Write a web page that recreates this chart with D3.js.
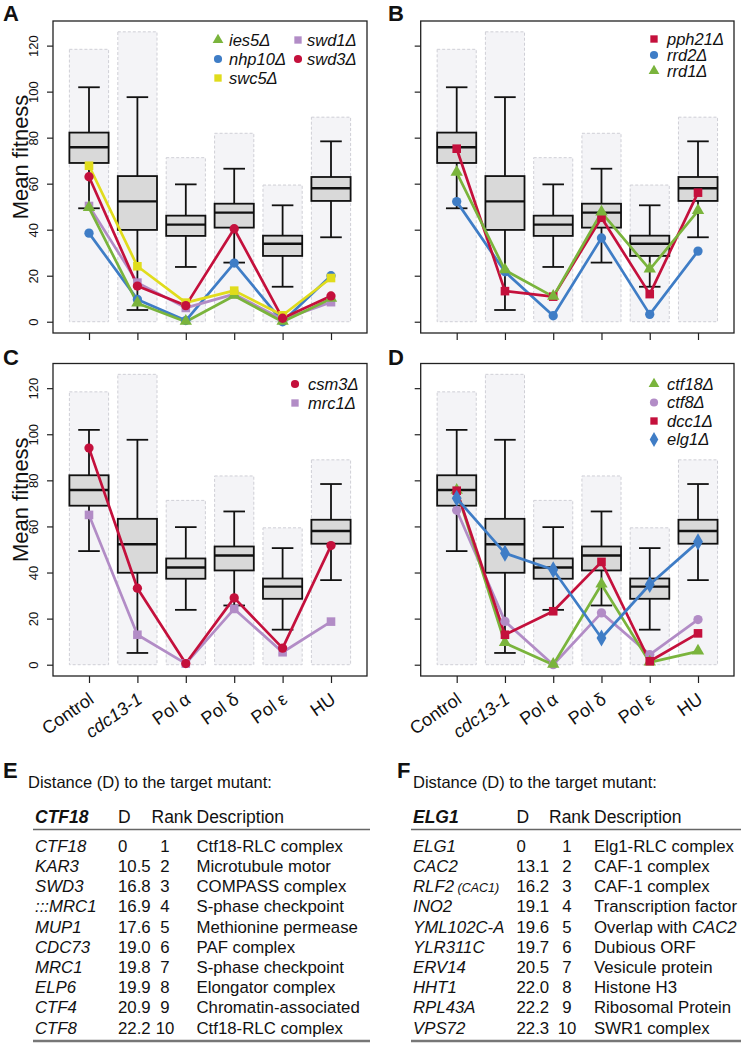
<!DOCTYPE html>
<html><head><meta charset="utf-8">
<script src="https://cdn.jsdelivr.net/npm/d3@7"></script>
<style>
body{margin:0;background:#fff}
svg{display:block}
text{font-family:"Liberation Sans",Arial,Helvetica,sans-serif;fill:#111}
</style>
</head><body>
<svg id="chart" width="741" height="1043"></svg>
<script>
// ---------- DATA ----------
const categories = ["Control", "cdc13-1", "Pol α", "Pol δ", "Pol ε", "HU"];
const yTicks = [0, 20, 40, 60, 80, 100, 120];
// reference distribution (same in every panel)
const rangeMax    = [118.4, 126.0, 71.3, 81.9, 59.4, 88.9];
const whiskerHigh = [101.9, 97.6, 59.7, 66.5, 50.6, 78.4];
const q3          = [82.2, 63.3, 46.1, 51.3, 37.4, 62.9];
const median      = [75.8, 52.3, 42.2, 47.4, 33.9, 58.0];
const q1          = [69.0, 39.9, 37.3, 40.9, 28.6, 52.5];
const whiskerLow  = [49.3, 5.1, 23.8, 25.7, 15.2, 36.7];

// panel A
const ies5  = [49.5, 8.0, 0.0, 11.3, 0.0, 10.0];
const nhp10 = [38.5, 9.7, 0.5, 25.5, 0.0, 20.0];
const swc5  = [67.8, 24.1, 8.3, 13.5, 2.8, 19.0];
const swd1  = [50.3, 17.0, 6.0, 12.0, 1.0, 8.5];
const swd3  = [63.0, 15.5, 7.0, 40.4, 1.5, 11.2];
// panel B
const pph21 = [75.2, 13.3, 10.9, 45.2, 12.0, 56.1];
const rrd2  = [52.2, 21.7, 2.6, 36.4, 3.2, 30.7];
const rrd1  = [64.8, 22.4, 10.9, 47.5, 22.7, 48.2];
// panel C
const csm3  = [94.0, 33.2, 0.5, 29.0, 7.2, 51.7];
const mrc1  = [65.0, 13.0, 0.5, 24.2, 5.4, 18.7];
// panel D
const ctf18 = [75.5, 9.4, 0.0, 34.8, 1.0, 5.8];
const ctf8  = [67.0, 18.8, 0.0, 22.5, 4.4, 19.6];
const dcc1  = [75.5, 13.0, 23.2, 44.6, 1.5, 13.6];
const elg1  = [72.2, 48.4, 41.2, 11.6, 34.8, 53.3];

// tables
const tableE_gene = ["CTF18", "KAR3", "SWD3", ":::MRC1", "MUP1", "CDC73", "MRC1", "ELP6", "CTF4", "CTF8"];
const tableE_D    = ["0", "10.5", "16.8", "16.9", "17.6", "19.0", "19.8", "19.9", "20.9", "22.2"];
const tableE_rank = ["1", "2", "3", "4", "5", "6", "7", "8", "9", "10"];
const tableE_desc = ["Ctf18-RLC complex", "Microtubule motor", "COMPASS complex", "S-phase checkpoint", "Methionine permease", "PAF complex", "S-phase checkpoint", "Elongator complex", "Chromatin-associated", "Ctf18-RLC complex"];

const tableF_gene = ["ELG1", "CAC2", "RLF2|(CAC1)", "INO2", "YML102C-A", "YLR311C", "ERV14", "HHT1", "RPL43A", "VPS72"];
const tableF_D    = ["0", "13.1", "16.2", "19.1", "19.6", "19.7", "20.5", "22.0", "22.2", "22.3"];
const tableF_rank = ["1", "2", "3", "4", "5", "6", "7", "8", "9", "10"];
const tableF_desc = ["Elg1-RLC complex", "CAF-1 complex", "CAF-1 complex", "Transcription factor", "Overlap with |CAC2", "Dubious ORF", "Vesicule protein", "Histone H3", "Ribosomal Protein", "SWR1 complex"];

// ---------- STYLES ----------
const COL = {green:"#7ab43c", blue:"#3f7dc6", yellow:"#e0dc1c", purple:"#b28cc6", red:"#c4103c"};
const seriesStyle = {
  ies5:{c:COL.green, s:"tri"}, nhp10:{c:COL.blue, s:"circ"}, swc5:{c:COL.yellow, s:"sq"},
  swd1:{c:COL.purple, s:"sq"}, swd3:{c:COL.red, s:"circ"},
  pph21:{c:COL.red, s:"sq"}, rrd2:{c:COL.blue, s:"circ"}, rrd1:{c:COL.green, s:"tri"},
  csm3:{c:COL.red, s:"circ"}, mrc1:{c:COL.purple, s:"sq"},
  ctf18:{c:COL.green, s:"tri"}, ctf8:{c:COL.purple, s:"circ"}, dcc1:{c:COL.red, s:"sq"}, elg1:{c:COL.blue, s:"dia"}
};
const seriesData = {ies5, nhp10, swc5, swd1, swd3, pph21, rrd2, rrd1, csm3, mrc1, ctf18, ctf8, dcc1, elg1};

const panels = [
  {id:"A", x0:53, x1:367, y0:21, y1:333, yLabels:true, xLabels:false, lx:3, ly:21,
   draw:["nhp10","swd1","ies5","swc5","swd3"],
   legend:[["ies5",218,229,40],["nhp10",218,229,59],["swc5",218,229,78],["swd1",298,307,40],["swd3",298,307,59]]},
  {id:"B", x0:420.7, x1:734, y0:21, y1:333, yLabels:false, xLabels:false, lx:388, ly:21,
   draw:["rrd2","pph21","rrd1"],
   legend:[["pph21",654,667,39],["rrd2",654,667,55],["rrd1",654,667,71]]},
  {id:"C", x0:53, x1:367, y0:363.5, y1:676, yLabels:true, xLabels:true, lx:3, ly:365,
   draw:["mrc1","csm3"],
   legend:[["csm3",295,308,384],["mrc1",295,308,403]]},
  {id:"D", x0:420.7, x1:734, y0:363.5, y1:676, yLabels:false, xLabels:true, lx:388, ly:365,
   draw:["ctf8","ctf18","dcc1","elg1"],
   legend:[["ctf18",654,667,384],["ctf8",654,667,402.5],["dcc1",654,667,421],["elg1",654,667,439.5]]}
];

const svg = d3.select("#chart");

function symbolPath(shape, big) {
  const t = {tri:d3.symbolTriangle, circ:d3.symbolCircle, sq:d3.symbolSquare, dia:d3.symbolDiamond}[shape];
  const sizes = big ? {tri:66, circ:68, sq:74, dia:84} : {tri:50, circ:52, sq:54, dia:64};
  return d3.symbol().type(t).size(sizes[shape])();
}

panels.forEach(p => {
  const g = svg.append("g");
  const x = d3.scalePoint().domain(categories).range([p.x0 + 36, p.x1 - 36]);
  const y = d3.scaleLinear().domain([-4.9, 130.7]).range([p.y1, p.y0]);
  const bw = x.step() * 0.81;
  const cap = bw * 0.55;

  // background ranges
  g.selectAll("rect.bg").data(categories).join("rect")
    .attr("x", c => x(c) - bw/2).attr("width", bw)
    .attr("y", (c,i) => y(rangeMax[i])).attr("height", (c,i) => y(0) - y(rangeMax[i]))
    .attr("fill", "#f4f4f7").attr("stroke", "#cfcfd6").attr("stroke-width", 1).attr("stroke-dasharray", "3,2");

  // box plots
  categories.forEach((c,i) => {
    const cx = x(c);
    g.append("line").attr("x1",cx).attr("x2",cx).attr("y1",y(whiskerHigh[i])).attr("y2",y(q3[i])).attr("stroke","#111").attr("stroke-width",1.8);
    g.append("line").attr("x1",cx).attr("x2",cx).attr("y1",y(q1[i])).attr("y2",y(whiskerLow[i])).attr("stroke","#111").attr("stroke-width",1.8);
    g.append("line").attr("x1",cx-cap/2).attr("x2",cx+cap/2).attr("y1",y(whiskerHigh[i])).attr("y2",y(whiskerHigh[i])).attr("stroke","#111").attr("stroke-width",1.8);
    g.append("line").attr("x1",cx-cap/2).attr("x2",cx+cap/2).attr("y1",y(whiskerLow[i])).attr("y2",y(whiskerLow[i])).attr("stroke","#111").attr("stroke-width",1.8);
    g.append("rect").attr("x",cx-bw/2).attr("width",bw).attr("y",y(q3[i])).attr("height",y(q1[i])-y(q3[i]))
      .attr("fill","#d9d9d9").attr("stroke","#111").attr("stroke-width",1.8);
    g.append("line").attr("x1",cx-bw/2).attr("x2",cx+bw/2).attr("y1",y(median[i])).attr("y2",y(median[i])).attr("stroke","#111").attr("stroke-width",2.4);
  });

  // series lines
  const line = d3.line().x((d,i) => x(categories[i])).y(d => y(d));
  p.draw.forEach(name => {
    const st = seriesStyle[name];
    g.append("path").datum(seriesData[name]).attr("d", line)
      .attr("fill","none").attr("stroke", st.c).attr("stroke-width", 2.7).attr("stroke-linejoin","round");
  });
  p.draw.forEach(name => {
    const st = seriesStyle[name];
    g.selectAll(null).data(seriesData[name]).join("path")
      .attr("d", symbolPath(st.s, true))
      .attr("transform", (d,i) => `translate(${x(categories[i])},${y(d) + (st.s==="tri"?-0.5:0)})`)
      .attr("fill", st.c);
  });

  // frame
  g.append("rect").attr("x",p.x0).attr("y",p.y0).attr("width",p.x1-p.x0).attr("height",p.y1-p.y0)
    .attr("fill","none").attr("stroke","#222").attr("stroke-width",1.3);

  // y axis
  const ya = g.append("g").attr("transform",`translate(${p.x0},0)`)
    .call(d3.axisLeft(y).tickValues(yTicks).tickSize(6).tickFormat(p.yLabels ? d3.format("d") : ""));
  ya.select(".domain").remove();
  ya.selectAll("line").attr("stroke","#222").attr("stroke-width",1.2);
  ya.selectAll("text").attr("transform","rotate(-90)").attr("x",0).attr("y",-15).attr("dy",0)
    .attr("text-anchor","middle").attr("font-size",13).attr("fill","#222")
    .style("font-family","'Liberation Sans',Arial,sans-serif");

  // x axis
  const xa = g.append("g").attr("transform",`translate(0,${p.y1})`)
    .call(d3.axisBottom(x).tickSize(7).tickFormat(""));
  xa.select(".domain").remove();
  xa.selectAll("line").attr("stroke","#222").attr("stroke-width",1.2);
  if (p.xLabels) {
    g.selectAll("text.xl").data(categories).join("text")
      .attr("text-anchor","end")
      .attr("transform", c => `translate(${x(c)+6},${p.y1+26}) rotate(-35)`)
      .attr("font-size",18)
      .attr("font-style", c => c === "cdc13-1" ? "italic" : "normal")
      .text(c => c);
  }
  if (p.yLabels) {
    g.append("text").attr("text-anchor","middle")
      .attr("transform",`translate(28,${(p.y0+p.y1)/2 - 20}) rotate(-90)`)
      .attr("font-size",22).text("Mean fitness");
  }

  // legend
  p.legend.forEach(([name, mx, tx, ly]) => {
    const st = seriesStyle[name];
    g.append("path").attr("d", symbolPath(st.s, false)).attr("transform",`translate(${mx},${ly})`).attr("fill", st.c);
    g.append("text").attr("x", tx).attr("y", ly + 5.5).attr("font-size",16.5).attr("font-style","italic").text(name + "Δ");
  });

  // panel letter
  svg.append("text").attr("x",p.lx).attr("y",p.ly).attr("font-size",22).attr("font-weight","bold").text(p.id);
});

// ---------- TABLES ----------
function drawTable(t) {
  const g = svg.append("g");
  g.append("text").attr("x",t.letterX).attr("y",778).attr("font-size",22).attr("font-weight","bold").text(t.letter);
  g.append("text").attr("x",t.titleX).attr("y",788).attr("font-size",16.5).attr("fill","#222").text("Distance (D) to the target mutant:");
  const hy = 823;
  g.append("text").attr("x",t.gx).attr("y",hy).attr("font-size",17.5).attr("font-weight","bold").attr("font-style","italic").text(t.target);
  g.append("text").attr("x",t.dx).attr("y",hy).attr("font-size",17.5).attr("fill","#222").text("D");
  g.append("text").attr("x",t.rhx).attr("y",hy).attr("font-size",17.5).attr("fill","#222").text("Rank");
  g.append("text").attr("x",t.descx).attr("y",hy).attr("font-size",17.5).attr("fill","#222").text("Description");
  g.append("line").attr("x1",t.gx-2).attr("x2",t.lineEnd).attr("y1",829.5).attr("y2",829.5).attr("stroke","#666").attr("stroke-width",1.5);
  g.append("line").attr("x1",t.gx-2).attr("x2",t.lineEnd).attr("y1",1041).attr("y2",1041).attr("stroke","#777").attr("stroke-width",2.5);
  const rowY = d3.scaleLinear().domain([0, 9]).range([851.8, 1033.6]);
  t.gene.forEach((gn, i) => {
    const yy = rowY(i);
    const parts = gn.split("|");
    const tg = g.append("text").attr("x",t.gx).attr("y",yy).attr("font-size",16.8).attr("font-style","italic").attr("fill","#222");
    tg.append("tspan").text(parts[0]);
    if (parts[1]) tg.append("tspan").attr("font-size",12.5).text(" " + parts[1]);
    g.append("text").attr("x",t.dx).attr("y",yy).attr("font-size",16.8).attr("fill","#222").text(t.D[i]);
    g.append("text").attr("x",t.rx).attr("y",yy).attr("font-size",16.8).attr("text-anchor","middle").attr("fill","#222").text(t.rank[i]);
    const dp = t.desc[i].split("|");
    const td = g.append("text").attr("x",t.descx).attr("y",yy).attr("font-size",16.8).attr("fill","#222");
    td.append("tspan").text(dp[0]);
    if (dp[1]) td.append("tspan").attr("font-style","italic").text(dp[1]);
  });
}
drawTable({letter:"E", letterX:3, titleX:28, gx:35, dx:118, rhx:151.5, rx:165, descx:196.5, lineEnd:370, target:"CTF18",
  gene:tableE_gene, D:tableE_D, rank:tableE_rank, desc:tableE_desc});
drawTable({letter:"F", letterX:397, titleX:413, gx:413, dx:516.5, rhx:549, rx:567, descx:594, lineEnd:741, target:"ELG1",
  gene:tableF_gene, D:tableF_D, rank:tableF_rank, desc:tableF_desc});
</script>
</body></html>
